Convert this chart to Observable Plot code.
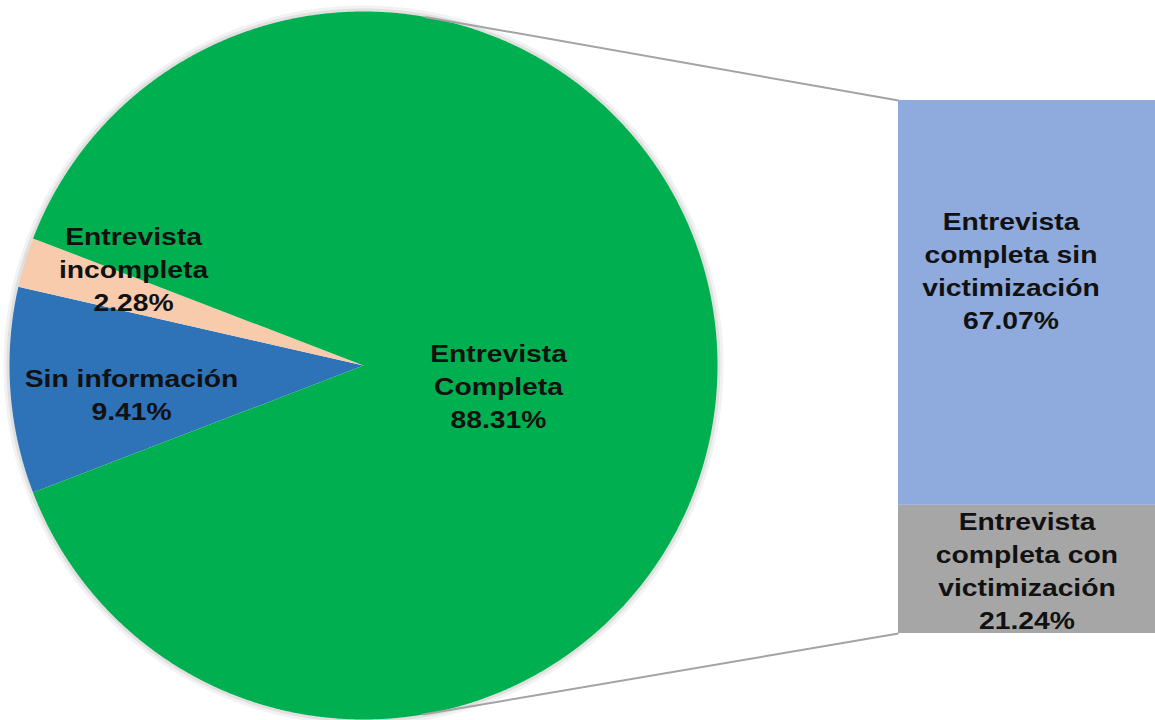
<!DOCTYPE html>
<html>
<head>
<meta charset="utf-8">
<script src="https://cdn.jsdelivr.net/npm/d3@7"></script>
<script src="https://cdn.jsdelivr.net/npm/@observablehq/plot@0.6"></script>
<style>
  html, body { margin: 0; padding: 0; background: #fff; }
  #wrap { position: relative; width: 1155px; height: 720px; overflow: hidden; background: #fff; }
  #wrap svg { position: absolute; overflow: visible; max-width: none; }
</style>
</head>
<body>
<div id="wrap"></div>
<script>
// ---- data ----
const pieCategories = ["Sin información", "Entrevista incompleta", "Entrevista Completa"];
const pieValues = [9.41, 2.28, 88.31];
const pieLabels = ["Sin información\n9.41%", "Entrevista\nincompleta\n2.28%", "Entrevista\nCompleta\n88.31%"];
const pieColors = ["#2E72B8", "#F8CBAD", "#00B050"];

const barCategories = ["Entrevista completa con victimización", "Entrevista completa sin victimización"];
const barValues = [21.24, 67.07];
const barLabels = ["Entrevista\ncompleta con\nvictimización\n21.24%", "Entrevista\ncompleta sin\nvictimización\n67.07%"];
const barColors = ["#A6A6A6", "#8FAADC"];

// ---- layout ----
const W = 1155, H = 720;
const cx = 363, cy = 365, r = 354;
const barLeft = 898, barTop = 100, barW = 257, barH = 533;
const pieLabelPos = [[131, 392], [133, 267], [498, 384]];
const font = "'Liberation Sans', Arial, Helvetica, sans-serif";
const fs = 23, lh = 33 / 23, stretch = 1.23;

// ---- pie geometry (split slice centred on the right) ----
const total = d3.sum(pieValues);
const splitIdx = 2;
const start = Math.PI / 2 + Math.PI * pieValues[splitIdx] / total;
const arcs = d3.pie().sort(null).startAngle(start).endAngle(start + 2 * Math.PI)(pieValues);

function arcPoints(a0, a1, rad) {
  const n = Math.max(2, Math.ceil((a1 - a0) / 0.004));
  const pts = [];
  for (let j = 0; j <= n; j++) {
    const t = a0 + (a1 - a0) * j / n;
    pts.push([cx + rad * Math.sin(t), cy - rad * Math.cos(t)]);
  }
  return pts;
}
const slices = arcs.map((a, i) => {
  const ring = [[cx, cy], ...arcPoints(a.startAngle, a.endAngle, r), [cx, cy]];
  return {type: "Feature", properties: {name: pieCategories[i]}, geometry: {type: "Polygon", coordinates: [ring]}};
});
const disc = {type: "Feature", properties: {}, geometry: {type: "Polygon", coordinates: [arcPoints(0, 2 * Math.PI, r)]}};
const frameRect = {type: "Polygon", coordinates: [[[0, 0], [W, 0], [W, H], [0, H], [0, 0]]]};

// connector lines: tangents from bar corners to the pie
function tangent(px, py, upper) {
  const dx = px - cx, dy = py - cy;
  const d = Math.hypot(dx, dy);
  const phi = Math.atan2(dy, dx);
  const al = Math.acos(r / d);
  const ang = upper ? phi - al : phi + al;
  return [cx + r * Math.cos(ang), cy + r * Math.sin(ang)];
}
const tTop = tangent(barLeft, barTop, true);
const tBot = tangent(barLeft, barTop + barH, false);
const connectors = [
  {x1: tTop[0], y1: tTop[1], x2: barLeft, y2: barTop},
  {x1: tBot[0], y1: tBot[1], x2: barLeft, y2: barTop + barH}
];

const pieText = pieCategories.map((c, i) => ({name: c, label: pieLabels[i], x: pieLabelPos[i][0], y: pieLabelPos[i][1]}));

function widenText(svg) {
  svg.querySelectorAll("text").forEach(t => {
    const tr = t.getAttribute("transform") || "";
    t.setAttribute("transform", (tr + " scale(" + stretch + ",1)").trim());
  });
}

const pie = Plot.plot({
  width: W, height: H, margin: 0,
  style: {fontFamily: font, background: "transparent"},
  projection: {type: "identity", domain: frameRect},
  color: {domain: pieCategories, range: pieColors},
  marks: [
    Plot.geo([disc], {fill: "none", stroke: "#000", strokeOpacity: 0.05, strokeWidth: 12}),
    Plot.geo([disc], {fill: "none", stroke: "#000", strokeOpacity: 0.07, strokeWidth: 6}),
    Plot.geo(slices, {fill: d => d.properties.name, stroke: "none"}),
    Plot.link(connectors, {x1: "x1", y1: "y1", x2: "x2", y2: "y2", stroke: "#A3A3A3", strokeWidth: 2}),
    Plot.text(pieText, {x: "x", y: "y", text: "label", fontSize: fs, fontWeight: "bold", lineHeight: lh, fill: "#111"})
  ]
});
widenText(pie);
pie.style.left = "0px"; pie.style.top = "0px";
document.getElementById("wrap").appendChild(pie);

// ---- bar of pie ----
const cum = d3.cumsum(barValues);
const barData = barCategories.map((c, i) => ({name: c, value: barValues[i], label: barLabels[i], mid: cum[i] - barValues[i] / 2}));
const barTotal = d3.sum(barValues);

const bar = Plot.plot({
  width: barW, height: barH, margin: 0,
  style: {fontFamily: font, background: "transparent"},
  x: {axis: null},
  y: {domain: [0, barTotal], axis: null},
  color: {domain: barCategories, range: barColors},
  marks: [
    Plot.barY(barData, {y: "value", fill: "name"}),
    Plot.text([barData[0]], {y: "mid", text: "label", fontSize: fs, fontWeight: "bold", lineHeight: lh, fill: "#111"}),
    Plot.text([barData[1]], {y: "mid", text: "label", dx: -16, dy: -34, fontSize: fs, fontWeight: "bold", lineHeight: lh, fill: "#111"})
  ]
});
widenText(bar);
bar.style.left = barLeft + "px"; bar.style.top = barTop + "px";
document.getElementById("wrap").appendChild(bar);
</script>
</body>
</html>
